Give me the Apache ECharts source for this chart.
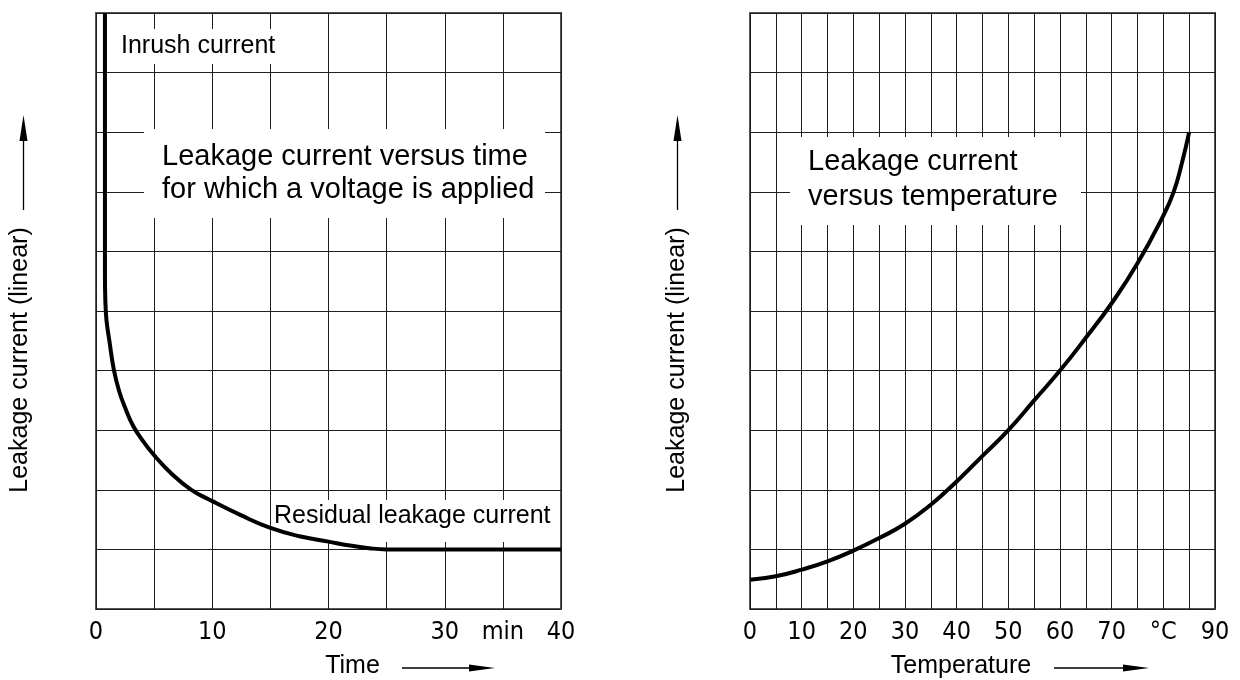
<!DOCTYPE html>
<html>
<head>
<meta charset="utf-8">
<script src="https://cdn.jsdelivr.net/npm/echarts@6/dist/echarts.min.js"></script>
<style>
html,body{margin:0;padding:0;background:#fff;}
#c{width:1240px;height:680px;}
</style>
</head>
<body>
<div id="c"></div>
<script>
// ---- Left chart: leakage current versus time (relative units, 10 grid divisions) ----
const timeMin    = [0.77, 0.77, 0.80, 0.90, 1.15, 1.55, 2.0, 2.5, 3.2, 4.0, 5.0, 6.5, 8.2, 10.0, 12.5, 15.0, 17.5, 20.0, 22.0, 23.5, 25, 30, 35, 40];
const leakVsTime = [10.0, 5.60, 5.20, 4.85, 4.50, 4.00, 3.65, 3.38, 3.07, 2.83, 2.58, 2.27, 2.00, 1.81, 1.57, 1.36, 1.22, 1.13, 1.06, 1.02, 1.0, 1.0, 1.0, 1.0];

// ---- Right chart: leakage current versus temperature ----
const tempC      = [0, 5, 10, 15, 20, 25, 30, 35, 40, 45, 50, 55, 60, 65, 70, 75, 80, 82, 83.5, 85];
const leakVsTemp = [0.49, 0.55, 0.66, 0.80, 0.98, 1.19, 1.43, 1.75, 2.14, 2.57, 3.0, 3.5, 4.0, 4.55, 5.13, 5.80, 6.60, 7.00, 7.45, 8.0];

// ---- Tick labels ----
const timeTickValues = [0, 10, 20, 30, 35, 40];
const timeTickLabels = ['0', '10', '20', '30', 'min', '40'];
const tempTickValues = [0, 10, 20, 30, 40, 50, 60, 70, 80, 90];
const tempTickLabels = ['0', '10', '20', '30', '40', '50', '60', '70', '°C', '90'];

// ---- Texts ----
const yAxisTitle = 'Leakage current (linear)';
const timeAxisTitle = 'Time';
const tempAxisTitle = 'Temperature';
const noteInrush = 'Inrush current';
const noteResidual = 'Residual leakage current';
const noteTimeLines = ['Leakage current versus time', 'for which a voltage is applied'];
const noteTempLines = ['Leakage current', 'versus temperature'];

const FONT = "'Liberation Sans', Arial, sans-serif";
const NARROW = "'Liberation Sans Narrow', 'DejaVu Sans Condensed', 'Arial Narrow', sans-serif";

function makeFormatter(values, labels) {
  return function (v) {
    const i = values.indexOf(Math.round(v * 1000) / 1000);
    return i >= 0 ? labels[i] : '';
  };
}

function xAxisCfg(gridIndex, max, values, labels) {
  return {
    gridIndex: gridIndex, type: 'value', min: 0, max: max, interval: 5,
    axisLine: {show: false}, axisTick: {show: false},
    splitLine: {show: true, lineStyle: {color: '#1e1e1e', width: 1}},
    axisLabel: {
      formatter: makeFormatter(values, labels), margin: 11,
      fontSize: 25, fontFamily: NARROW, color: '#000',
      showMinLabel: true, showMaxLabel: true, hideOverlap: false
    }
  };
}
function yAxisCfg(gridIndex) {
  return {
    gridIndex: gridIndex, type: 'value', min: 0, max: 10, interval: 1,
    axisLine: {show: false}, axisTick: {show: false}, axisLabel: {show: false},
    splitLine: {show: true, lineStyle: {color: '#1e1e1e', width: 1}}
  };
}

const gridBox = {top: 13, width: 465, height: 596, show: true, borderColor: '#555', borderWidth: 2, backgroundColor: 'transparent'};

function whiteBox(x, y, w, h) {
  return {type: 'rect', z: 1, silent: true, shape: {x: x, y: y, width: w, height: h}, style: {fill: '#fff', stroke: null}};
}
function txt(t, x, y, size, align, extra) {
  return Object.assign({type: 'text', z: 5, silent: true, x: x, y: y,
    style: {text: t, fill: '#000', font: size + 'px ' + FONT, align: align || 'left', verticalAlign: 'middle'}}, extra || {});
}
function hArrow(x1, x2, y) {
  return [
    {type: 'line', z: 5, silent: true, shape: {x1: x1, y1: y, x2: x2 - 20, y2: y}, style: {stroke: '#000', lineWidth: 1.3}},
    {type: 'polygon', z: 5, silent: true, shape: {points: [[x2 - 26, y - 3.5], [x2, y], [x2 - 26, y + 3.5]]}, style: {fill: '#000'}}
  ];
}
function vArrow(x, yBottom, yTop) {
  return [
    {type: 'line', z: 5, silent: true, shape: {x1: x, y1: yBottom, x2: x, y2: yTop + 20}, style: {stroke: '#000', lineWidth: 1.3}},
    {type: 'polygon', z: 5, silent: true, shape: {points: [[x - 4, yTop + 26], [x, yTop], [x + 4, yTop + 26]]}, style: {fill: '#000'}}
  ];
}

const graphics = [].concat(
  [
    whiteBox(115, 29, 170, 35),
    whiteBox(144, 129, 401, 89),
    whiteBox(273, 500, 286, 42),
    whiteBox(790, 137, 291, 88),
    txt(noteInrush, 121, 46.5, 25),
    txt(noteTimeLines[0], 162, 156.5, 29),
    txt(noteTimeLines[1], 162, 189.5, 29),
    txt(noteResidual, 274, 516.5, 25),
    txt(noteTempLines[0], 808, 162, 29),
    txt(noteTempLines[1], 808, 197, 29),
    txt(timeAxisTitle, 352.5, 666, 25, 'center'),
    txt(tempAxisTitle, 961, 666, 25, 'center'),
    txt(yAxisTitle, 20, 360, 25, 'center', {rotation: Math.PI / 2}),
    txt(yAxisTitle, 677, 360, 25, 'center', {rotation: Math.PI / 2})
  ],
  hArrow(402, 495, 668),
  hArrow(1054, 1149, 668),
  vArrow(23.5, 210, 115),
  vArrow(677.5, 210, 115)
);

const chart = echarts.init(document.getElementById('c'), null, {renderer: 'canvas'});
chart.setOption({
  backgroundColor: '#fff',
  animation: false,
  grid: [
    Object.assign({left: 96}, gridBox),
    Object.assign({left: 750}, gridBox)
  ],
  xAxis: [
    xAxisCfg(0, 40, timeTickValues, timeTickLabels),
    xAxisCfg(1, 90, tempTickValues, tempTickLabels)
  ],
  yAxis: [yAxisCfg(0), yAxisCfg(1)],
  series: [
    {
      type: 'line', xAxisIndex: 0, yAxisIndex: 0, z: 3,
      data: timeMin.map((t, i) => [t, leakVsTime[i]]),
      showSymbol: false, smooth: 0.45,
      lineStyle: {color: '#000', width: 4}
    },
    {
      type: 'line', xAxisIndex: 1, yAxisIndex: 1, z: 3,
      data: tempC.map((t, i) => [t, leakVsTemp[i]]),
      showSymbol: false, smooth: 0.5,
      lineStyle: {color: '#000', width: 4}
    }
  ],
  graphic: {elements: graphics}
});
</script>
</body>
</html>
